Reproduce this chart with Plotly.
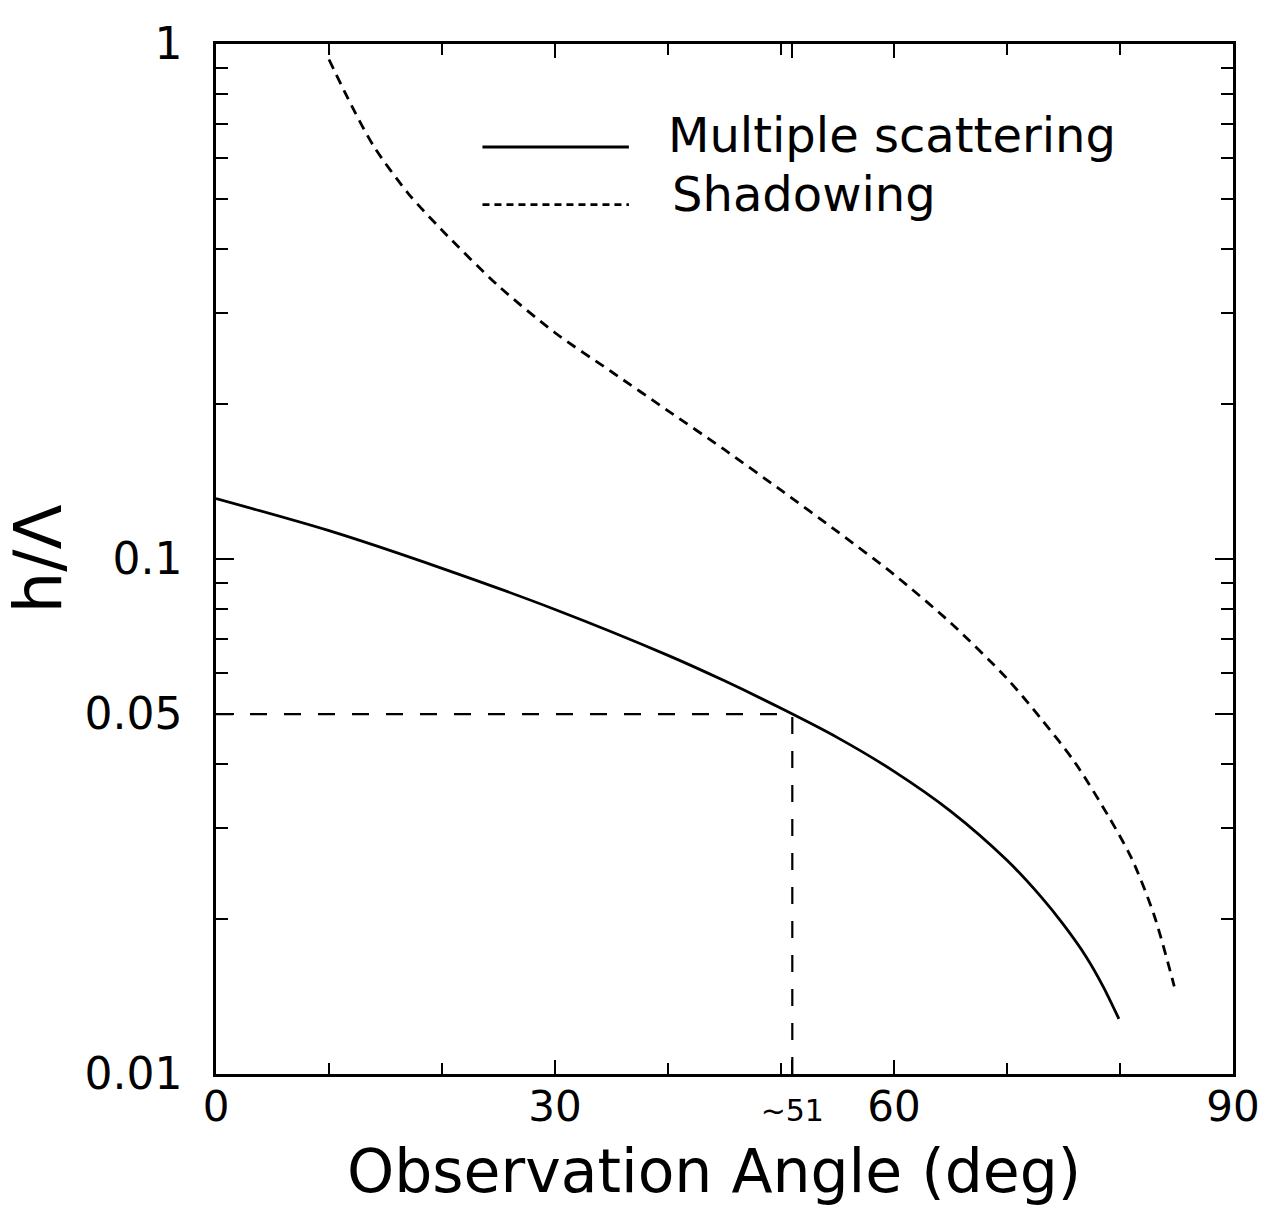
import plotly.graph_objects as go

# Multiple scattering (solid)
ms_x = [0, 10, 20, 30, 40, 45, 50, 55, 60, 65, 70, 73, 75, 77, 78.5, 79.9]
ms_y = [0.131, 0.1135, 0.0959, 0.0798, 0.0650, 0.0580, 0.0513, 0.0450, 0.0387, 0.0324, 0.0260, 0.0221,
        0.0195, 0.0169, 0.0148, 0.0128]

# Shadowing (dashed)
sh_x = [10, 12, 14, 17, 20, 25, 30, 35, 40, 45, 50, 55, 60, 65, 70, 73, 76, 79, 81, 83, 84.8]
sh_y = [0.933, 0.759, 0.631, 0.513, 0.435, 0.339, 0.275, 0.231, 0.194, 0.163, 0.136, 0.113,
        0.0933, 0.0752, 0.0586, 0.0490, 0.0403, 0.0316, 0.0263, 0.0204, 0.0148]

# Guide lines marking h/Λ = 0.05 at ~51 deg
guide_h_x = [0, 51]
guide_h_y = [0.05, 0.05]
guide_v_x = [51, 51]
guide_v_y = [0.01, 0.05]

x_tickvals = [0, 30, 51, 60, 90]
x_ticktext = ["0", "30", "<span style='font-size:30px'>~51</span>", "60", "90"]
x_minor = [10, 20, 40, 50, 70, 80]
y_tickvals = [0.01, 0.05, 0.1, 1]
y_ticktext = ["0.01", "0.05", "0.1", "1"]
y_minor = [0.02, 0.03, 0.04, 0.06, 0.07, 0.08, 0.09, 0.2, 0.3, 0.4, 0.5, 0.6, 0.7, 0.8, 0.9]

legend_labels = ["Multiple scattering", "Shadowing"]
x_title = "Observation Angle (deg)"
y_title = "h/Λ"

FONT = "DejaVu Sans"

fig = go.Figure()
fig.add_trace(go.Scatter(x=ms_x, y=ms_y, mode="lines",
                         line=dict(color="black", width=2.8, shape="spline", smoothing=0.8),
                         showlegend=False))
fig.add_trace(go.Scatter(x=sh_x, y=sh_y, mode="lines",
                         line=dict(color="black", width=2.8, dash="10px,7px", shape="spline", smoothing=0.8),
                         showlegend=False))
fig.add_trace(go.Scatter(x=guide_h_x, y=guide_h_y, mode="lines", line=dict(color="black", width=2.2, dash="17px,17px"),
                         showlegend=False))
fig.add_trace(go.Scatter(x=guide_v_x, y=guide_v_y, mode="lines", line=dict(color="black", width=2.2, dash="17px,17px"),
                         showlegend=False))

# manual legend
fig.add_shape(type="line", xref="paper", yref="paper", x0=0.262, x1=0.406, y0=0.900, y1=0.900,
              line=dict(color="black", width=2.8))
fig.add_shape(type="line", xref="paper", yref="paper", x0=0.262, x1=0.406, y0=0.844, y1=0.844,
              line=dict(color="black", width=2.8, dash="7px,5px"))
fig.add_annotation(xref="paper", yref="paper", x=0.442, y=0.912, text=legend_labels[0], showarrow=False,
                   xanchor="left", yanchor="middle", font=dict(family=FONT, size=48, color="black"))
fig.add_annotation(xref="paper", yref="paper", x=0.446, y=0.854, text=legend_labels[1], showarrow=False,
                   xanchor="left", yanchor="middle", font=dict(family=FONT, size=48, color="black"))

# x-axis title
fig.add_annotation(xref="paper", yref="paper", x=0.49, y=-0.094, text=x_title, showarrow=False,
                   xanchor="center", yanchor="middle", font=dict(family=FONT, size=60, color="black"))

fig.update_layout(
    width=1265, height=1216,
    margin=dict(l=216, r=32, t=44, b=142),
    paper_bgcolor="white", plot_bgcolor="white",
    font=dict(family=FONT, color="black"),
    showlegend=False,
)
fig.update_xaxes(
    range=[0, 90], showline=True, linecolor="black", linewidth=2.5, mirror="ticks",
    showgrid=False, zeroline=False, automargin=False,
    ticks="inside", tickvals=x_tickvals, ticktext=x_ticktext, ticklen=14, tickwidth=2, tickcolor="black",
    minor=dict(tickvals=x_minor, ticks="inside", ticklen=11, tickwidth=2, tickcolor="black", showgrid=False),
    tickfont=dict(family=FONT, size=42, color="black"), ticklabelstandoff=-6, ticklabeloverflow="allow",
)
fig.update_yaxes(
    type="log", range=[-2, 0], showline=True, linecolor="black", linewidth=2.5, mirror="ticks",
    showgrid=False, zeroline=False, automargin=False,
    ticks="inside", tickvals=y_tickvals, ticktext=y_ticktext, ticklen=18, tickwidth=2, tickcolor="black",
    minor=dict(tickvals=y_minor, ticks="inside", ticklen=12, tickwidth=2, tickcolor="black", showgrid=False),
    tickfont=dict(family=FONT, size=44, color="black"), ticklabelstandoff=22, ticklabeloverflow="allow",
    title=dict(text=y_title, font=dict(family=FONT, size=66, color="black"), standoff=10),
)

fig.write_html("out.html")
